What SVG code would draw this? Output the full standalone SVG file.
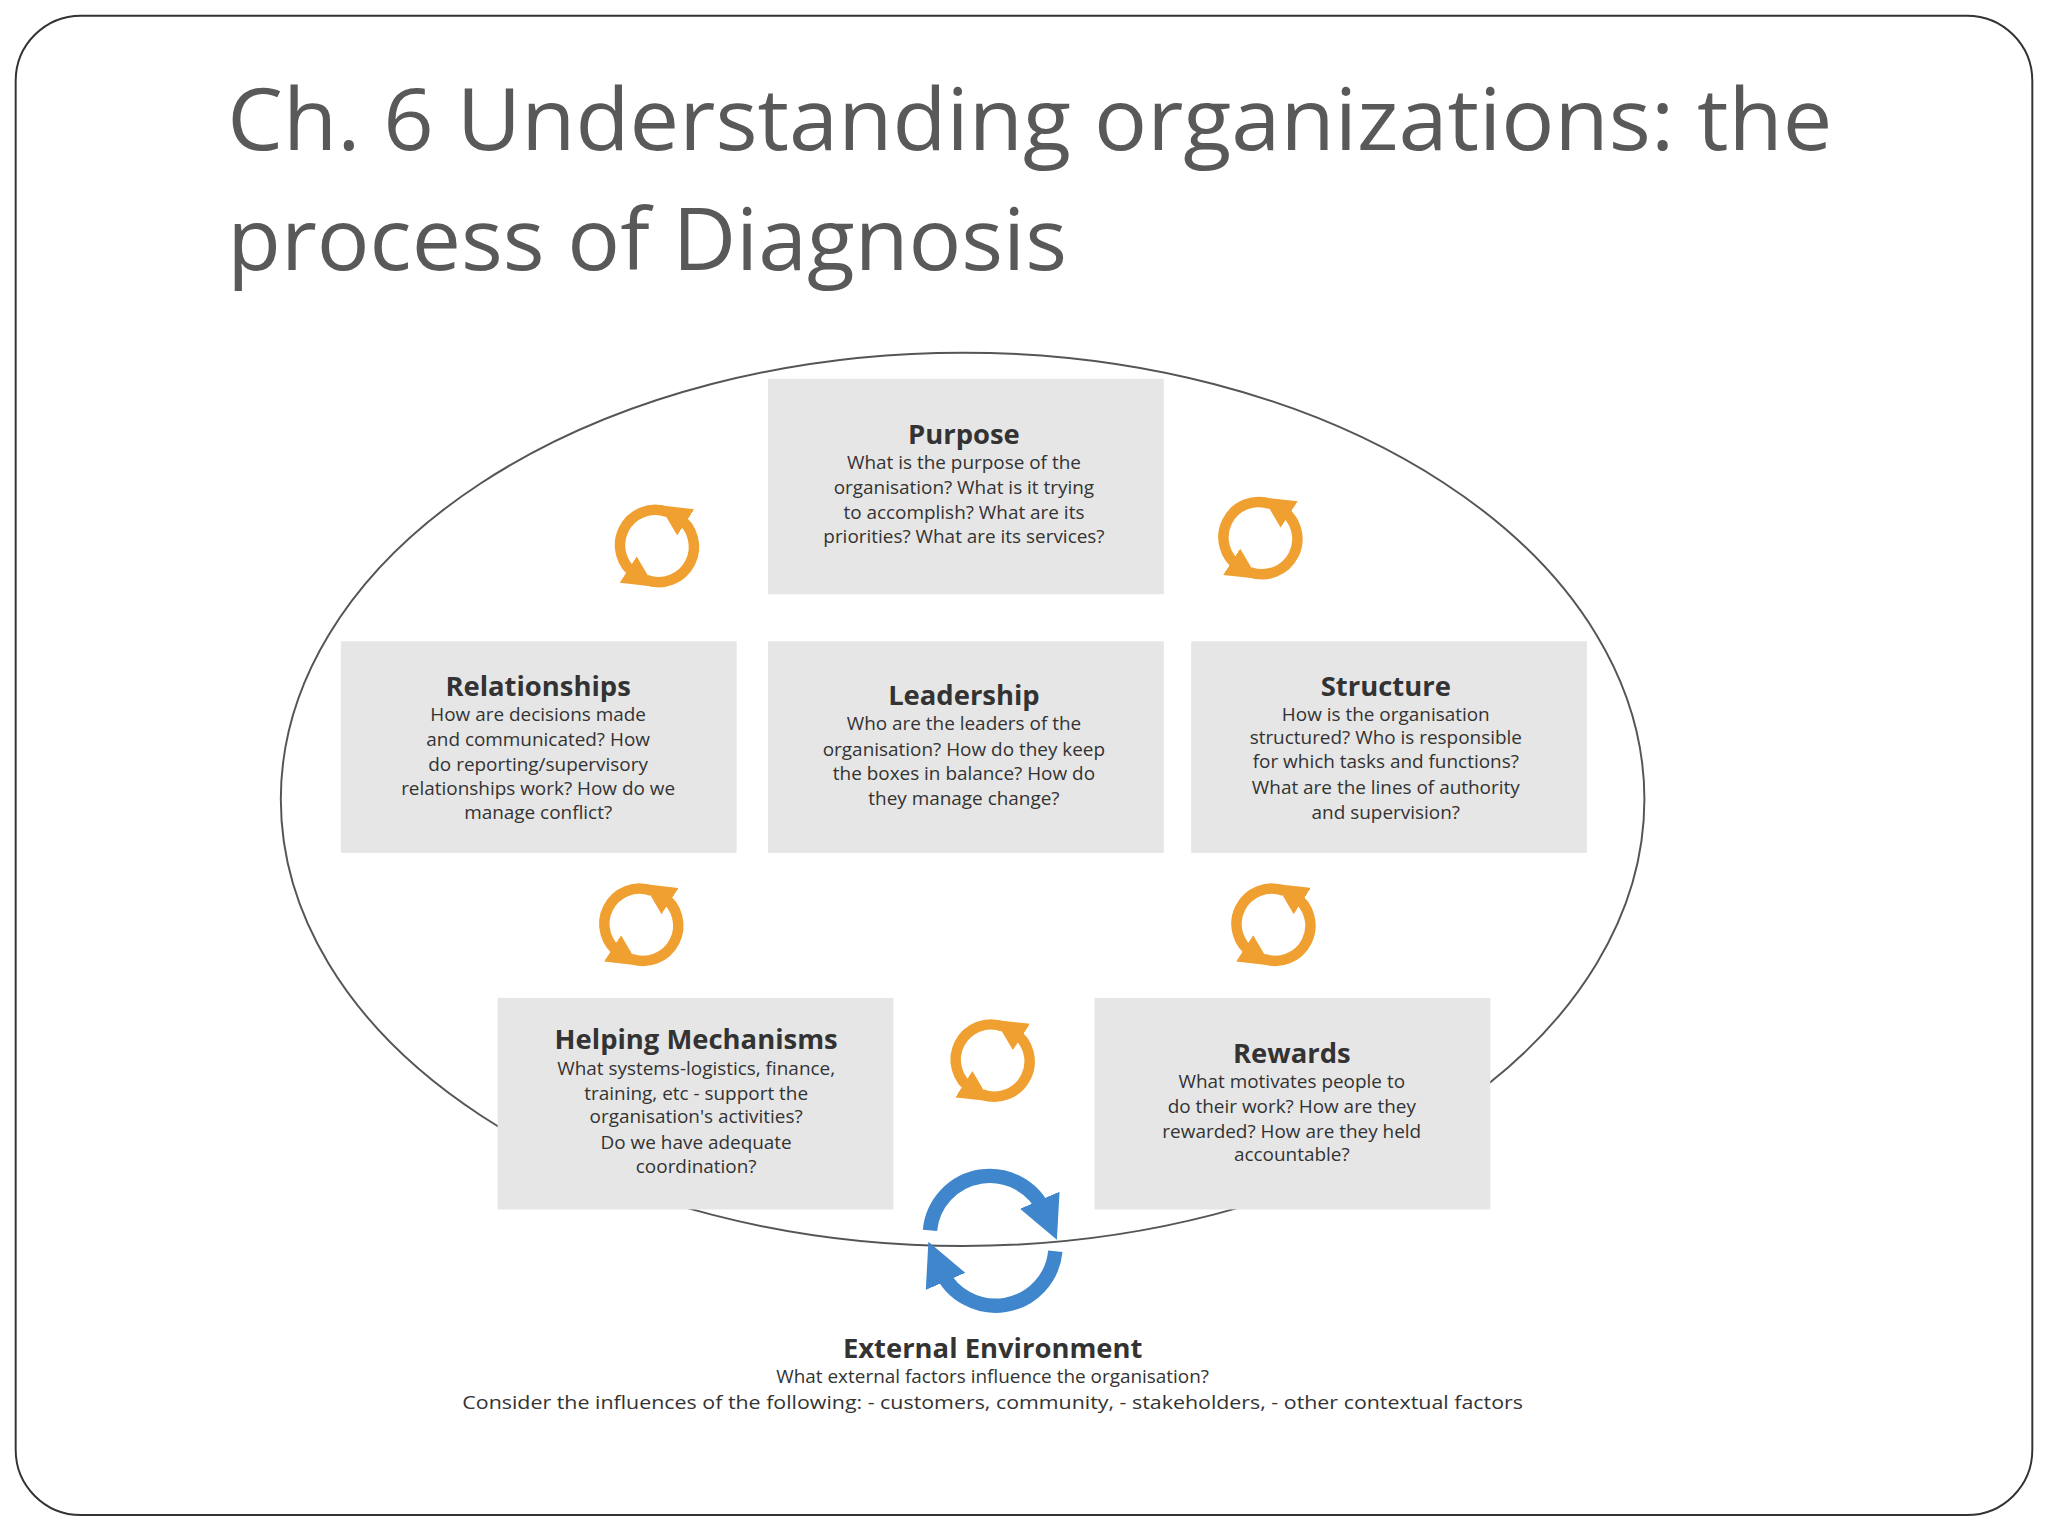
<svg xmlns="http://www.w3.org/2000/svg" width="2048" height="1536" viewBox="0 0 2048 1536">
<style>
.t{font-family:"Open Sans","Liberation Sans",sans-serif;fill:#595959}
.box{fill:#e6e6e6}
.h{font-family:"Open Sans","Liberation Sans",sans-serif;font-size:21px;font-weight:bold;fill:#333;text-anchor:middle}
.b{font-family:"Open Sans","Liberation Sans",sans-serif;font-size:14.5px;fill:#333;text-anchor:middle}
</style>
<defs>
<marker id="ao" viewBox="0 0 10 10" refX="3" refY="5" markerWidth="3" markerHeight="3" orient="auto"><path d="M0,0 L10,5 L0,10 z" fill="#f0a030"/></marker>
<marker id="ab" viewBox="0 0 10 10" refX="3" refY="5" markerWidth="3" markerHeight="3" orient="auto"><path d="M0,0 L10,5 L0,10 z" fill="#3f86cc"/></marker>
<g id="cyc" fill="none" stroke="#f0a030" stroke-width="8">
<path d="M8,-26 A27 27 0 0 0 -16,22" marker-end="url(#ao)"/>
<path d="M-8,26 A27 27 0 0 0 16,-22" marker-end="url(#ao)"/>
</g>
</defs>
<rect x="0" y="0" width="2048" height="1536" fill="#fff"/>
<g transform="scale(1.30612)">
<rect x="12" y="12" width="1544" height="1148" rx="50" fill="none" stroke="#333" stroke-width="1.5"/>
<g id="title">
<text class="t" x="174" y="115" font-size="66" textLength="1229" lengthAdjust="spacingAndGlyphs">Ch. 6 Understanding organizations: the</text>
<text class="t" x="174" y="207" font-size="66" textLength="643" lengthAdjust="spacingAndGlyphs">process of Diagnosis</text>
</g>
<g id="connectors">
<ellipse cx="737" cy="612" rx="522" ry="342" fill="none" stroke="#555" stroke-width="1.5"/>
<use href="#cyc" x="503" y="418"/>
<use href="#cyc" x="965" y="412" transform="rotate(0)"/>
<use href="#cyc" x="491" y="708"/>
<use href="#cyc" x="975" y="708"/>
<use href="#cyc" x="760" y="812"/>
<g fill="none" stroke="#3f86cc" stroke-width="11">
<path d="M712,942 A46 46 0 0 1 800,928" marker-end="url(#ab)"/>
<path d="M808,958 A46 46 0 0 1 720,972" marker-end="url(#ab)"/>
</g>
</g>
<g id="purpose"><rect class="box" x="588" y="290" width="303" height="165"/>
<text class="h" x="738" y="340">Purpose</text>
<text class="b" x="738" y="359">What is the purpose of the</text>
<text class="b" x="738" y="378">organisation? What is it trying</text>
<text class="b" x="738" y="397">to accomplish? What are its</text>
<text class="b" x="738" y="416">priorities? What are its services?</text></g>
<g id="relationships"><rect class="box" x="261" y="491" width="303" height="162"/>
<text class="h" x="412" y="533">Relationships</text>
<text class="b" x="412" y="552">How are decisions made</text>
<text class="b" x="412" y="571">and communicated? How</text>
<text class="b" x="412" y="590">do reporting/supervisory</text>
<text class="b" x="412" y="609">relationships work? How do we</text>
<text class="b" x="412" y="627">manage conflict?</text></g>
<g id="leadership"><rect class="box" x="588" y="491" width="303" height="162"/>
<text class="h" x="738" y="540">Leadership</text>
<text class="b" x="738" y="559">Who are the leaders of the</text>
<text class="b" x="738" y="579">organisation? How do they keep</text>
<text class="b" x="738" y="597">the boxes in balance? How do</text>
<text class="b" x="738" y="616">they manage change?</text></g>
<g id="structure"><rect class="box" x="912" y="491" width="303" height="162"/>
<text class="h" x="1061" y="533">Structure</text>
<text class="b" x="1061" y="552">How is the organisation</text>
<text class="b" x="1061" y="570">structured? Who is responsible</text>
<text class="b" x="1061" y="588">for which tasks and functions?</text>
<text class="b" x="1061" y="608">What are the lines of authority</text>
<text class="b" x="1061" y="627">and supervision?</text></g>
<g id="helping"><rect class="box" x="381" y="764" width="303" height="162"/>
<text class="h" x="533" y="803">Helping Mechanisms</text>
<text class="b" x="533" y="823">What systems-logistics, finance,</text>
<text class="b" x="533" y="842">training, etc - support the</text>
<text class="b" x="533" y="860">organisation's activities?</text>
<text class="b" x="533" y="880">Do we have adequate</text>
<text class="b" x="533" y="898">coordination?</text></g>
<g id="rewards"><rect class="box" x="838" y="764" width="303" height="162"/>
<text class="h" x="989" y="814">Rewards</text>
<text class="b" x="989" y="833">What motivates people to</text>
<text class="b" x="989" y="852">do their work? How are they</text>
<text class="b" x="989" y="871">rewarded? How are they held</text>
<text class="b" x="989" y="889">accountable?</text></g>
<g id="external">
<text class="h" x="760" y="1040">External Environment</text>
<text class="b" x="760" y="1059">What external factors influence the organisation?</text>
<text class="b" x="760" y="1079" textLength="812" lengthAdjust="spacingAndGlyphs">Consider the influences of the following: - customers, community, - stakeholders, - other contextual factors</text>
</g>
</g>
</svg>
